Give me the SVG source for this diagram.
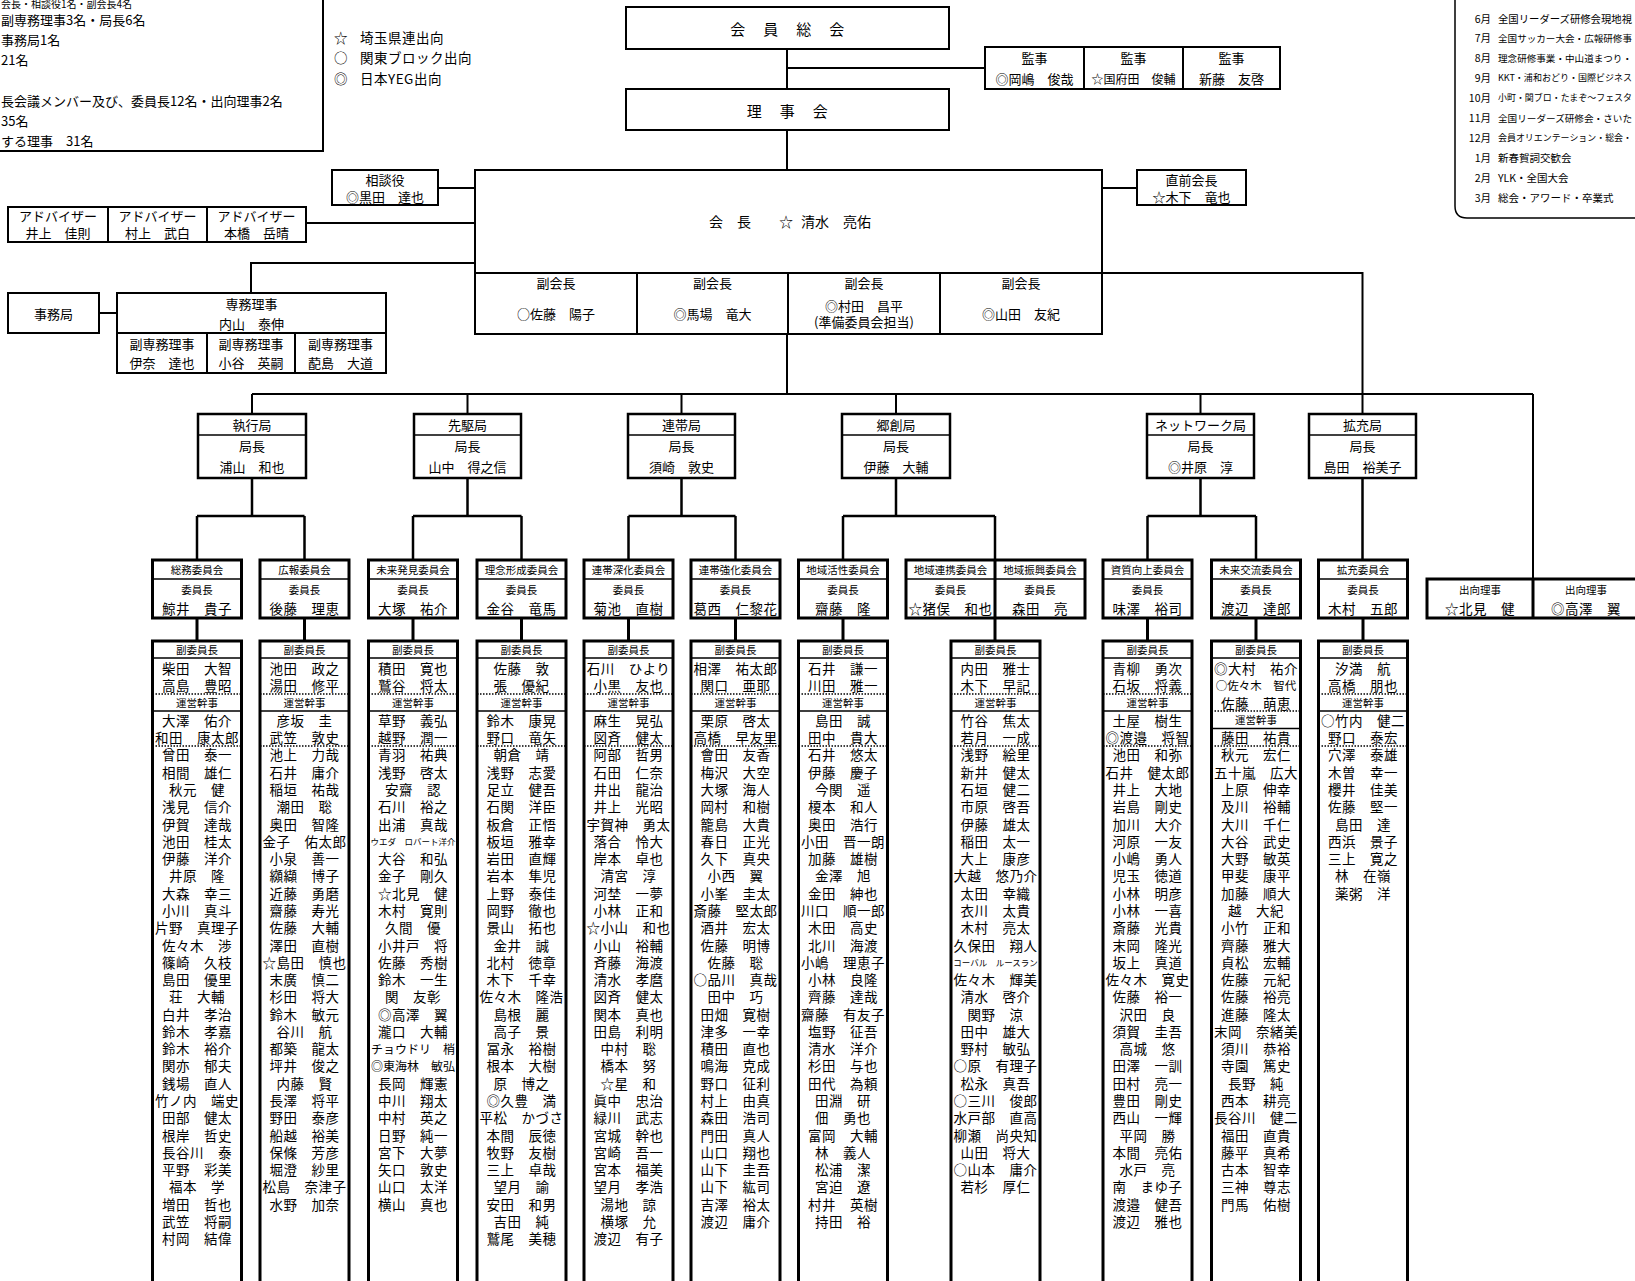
<svg xmlns="http://www.w3.org/2000/svg" xmlns:xlink="http://www.w3.org/1999/xlink" width="1635" height="1281" viewBox="0 0 1635 1281">
<style>
text{font-family:"Noto Sans CJK JP","Noto Sans CJK SC","Liberation Sans",sans-serif;fill:#000;dominant-baseline:central;text-anchor:middle}
.st{text-anchor:start}
.en{text-anchor:end}
.n{font-size:13.5px;letter-spacing:0.5px}
.u{font-size:13px}
.L{font-size:15px;letter-spacing:1.5px}
.s{font-size:10.5px}
.g{font-size:13px}
.cal{font-size:10.5px}
.m{font-size:12px}
.m2{font-size:11.5px}
.xs{font-size:8.5px}
.bx{fill:#fff;stroke:#000;stroke-width:2}
.bb{fill:#fff;stroke:#000;stroke-width:2.5}
.bc{fill:#fff;stroke:#000;stroke-width:3}
.ln{fill:none;stroke:#000;stroke-width:2}
.lb{fill:none;stroke:#000;stroke-width:2.5}
.lc{fill:none;stroke:#000;stroke-width:3}
.d1{fill:none;stroke:#000;stroke-width:1.5}
.dt{fill:none;stroke:#000;stroke-width:1.5;stroke-dasharray:1.5 1.5}
</style>
<defs>
<g id="hf">
<rect class="bc" x="-44.5" y="560" width="89" height="58"/>
<path class="d1" d="M-44.5,579H44.5"/>
</g>
<g id="mf">
<rect class="bc" x="-44.5" y="641" width="89" height="660"/>
<path class="d1" d="M-44.5,658H44.5M-44.5,711H44.5"/>
<path class="dt" d="M-44.5,694H44.5M-44.5,746H44.5"/>
</g>
</defs>
<rect x="0" y="0" width="1635" height="1281" fill="#fff"/>

<g id="legend">
<rect x="-10" y="-10" width="333" height="161" fill="#fff" stroke="#000" stroke-width="2"/>
<text class="st" style="font-size:10px" x="1" y="3">会長・相談役1名・副会長4名</text>
<text class="g st" x="1" y="19">副専務理事3名・局長6名</text>
<text class="g st" x="1" y="39">事務局1名</text>
<text class="g st" x="1" y="59">21名</text>
<text class="g st" x="1" y="100">長会議メンバー及び、委員長12名・出向理事2名</text>
<text class="g st" x="1" y="120">35名</text>
<text class="g st" x="1" y="140">する理事　31名</text>
</g>

<g id="marks">
<text class="n st" x="334" y="37">☆</text><text class="n st" x="360" y="37">埼玉県連出向</text>
<text class="n st" x="334" y="57">○</text><text class="n st" x="360" y="57">関東ブロック出向</text>
<text class="n st" x="334" y="78">◎</text><text class="n st" x="360" y="78">日本YEG出向</text>
</g>

<g id="calendar">
<path d="M1455,-5V206Q1455,218 1467,218H1645" fill="#fff" stroke="#000" stroke-width="1.5"/>
<text class="cal en" x="1491" y="18">6月</text><text class="st" style="font-size:10.2px" x="1498" y="18" textLength="134" lengthAdjust="spacingAndGlyphs">全国リーダーズ研修会現地視</text>
<text class="cal en" x="1491" y="37.9">7月</text><text class="st" style="font-size:9.4px" x="1498" y="37.9" textLength="134" lengthAdjust="spacingAndGlyphs">全国サッカー大会・広報研修事</text>
<text class="cal en" x="1491" y="57.8">8月</text><text class="st" style="font-size:9.4px" x="1498" y="57.8" textLength="134" lengthAdjust="spacingAndGlyphs">理念研修事業・中山道まつり・</text>
<text class="cal en" x="1491" y="77.7">9月</text><text class="st" style="font-size:8.9px" x="1498" y="77.7" textLength="134" lengthAdjust="spacingAndGlyphs">KKT・浦和おどり・国際ビジネス</text>
<text class="cal en" x="1491" y="97.6">10月</text><text class="st" style="font-size:8.8px" x="1498" y="97.6" textLength="134" lengthAdjust="spacingAndGlyphs">小町・関ブロ・たまぞ～フェスタ</text>
<text class="cal en" x="1491" y="117.5">11月</text><text class="st" style="font-size:9.4px" x="1498" y="117.5" textLength="134" lengthAdjust="spacingAndGlyphs">全国リーダーズ研修会・さいた</text>
<text class="cal en" x="1491" y="137.4">12月</text><text class="st" style="font-size:8.8px" x="1498" y="137.4" textLength="134" lengthAdjust="spacingAndGlyphs">会員オリエンテーション・総会・</text>
<text class="cal en" x="1491" y="157.3">1月</text><text class="cal st" x="1498" y="157.3">新春賀詞交歓会</text>
<text class="cal en" x="1491" y="177.2">2月</text><text class="cal st" x="1498" y="177.2">YLK・全国大会</text>
<text class="cal en" x="1491" y="197.1">3月</text><text class="cal st" x="1498" y="197.1">総会・アワード・卒業式</text>
</g>

<g id="connectors">
<path class="ln" d="M787,49V89M787,68H985M787,130V170M438,188H475M306,223H475M475,263H251V293M99,313H117M1102,188H1137M787,334V394M1102,273H1362.5V414M252,394H1533M252,394V414M467.5,394V414M681.5,394V414M896,394V414M1200.5,394V414M1533,394V579"/>
<path class="lb" d="M252,478V516M197,516H304.5M197,516V560M304.5,516V560M467.5,478V516M413,516H521.5M413,516V560M521.5,516V560M681.5,478V516M628.5,516H735.5M628.5,516V560M735.5,516V560M896,478V516M843,516H995M843,516V560M995,516V560M1200.5,478V516M1147.5,516H1256M1147.5,516V560M1256,516V560M1362.5,478V560"/>
<path class="lc" d="M197,618V641M304.5,618V641M413,618V641M521.5,618V641M628.5,618V641M735.5,618V641M843,618V641M995,618V641M1147.5,618V641M1256,618V641M1363,618V641"/>
</g>

<g id="general-assembly">
<rect class="bx" x="626" y="7" width="323" height="42"/>
<text class="L" x="788" y="28">会　員　総　会</text>
</g>
<g id="board">
<rect class="bx" x="626" y="89" width="323" height="41"/>
<text class="L" x="788" y="110">理　事　会</text>
</g>
<g id="auditors">
<rect class="bx" x="985" y="47" width="295" height="42"/>
<path class="ln" d="M1084,47V89M1183,47V89"/>
<text class="u" x="1034.5" y="57">監事</text>
<text class="u" x="1133.5" y="57">監事</text>
<text class="u" x="1231.5" y="57">監事</text>
<text class="u" x="1034.5" y="78">◎岡嶋　俊哉</text>
<text class="u" x="1133.5" y="78" style="font-size:12px">☆国府田　俊輔</text>
<text class="u" x="1231.5" y="78">新藤　友啓</text>
</g>
<g id="president">
<rect class="bx" x="475" y="170" width="627" height="164"/>
<path class="ln" d="M475,273H1102M637,273V334M788,273V334M940,273V334"/>
<text class="u st" style="font-size:14px" x="709" y="221">会　長</text>
<text class="u st" style="font-size:14px" x="779" y="221">☆</text>
<text class="u st" style="font-size:14px" x="801" y="221">清水　亮佑</text>
<text class="u" x="556" y="282">副会長</text>
<text class="u" x="712.5" y="282">副会長</text>
<text class="u" x="864" y="282">副会長</text>
<text class="u" x="1021" y="282">副会長</text>
<text class="u" x="556" y="313">○佐藤　陽子</text>
<text class="u" x="712.5" y="313">◎馬場　竜大</text>
<text class="u" x="864" y="305">◎村田　昌平</text>
<text class="u" x="864" y="321">(準備委員会担当)</text>
<text class="u" x="1021" y="313">◎山田　友紀</text>
</g>
<g id="counselor">
<rect class="bx" x="332" y="170" width="106" height="35"/>
<text class="u" x="385" y="179">相談役</text>
<text class="u" x="385" y="196">◎黒田　達也</text>
</g>
<g id="advisors">
<rect class="bx" x="8" y="207" width="298" height="35"/>
<path class="ln" d="M108,207V242M207,207V242"/>
<text class="u" x="58" y="215">アドバイザー</text>
<text class="u" x="157.5" y="215">アドバイザー</text>
<text class="u" x="256.5" y="215">アドバイザー</text>
<text class="u" x="58" y="232">井上　佳則</text>
<text class="u" x="157.5" y="232">村上　武白</text>
<text class="u" x="256.5" y="232">本橋　岳晴</text>
</g>
<g id="secretariat">
<rect class="bx" x="8" y="293" width="91" height="40"/>
<text class="u" x="53.5" y="313">事務局</text>
</g>
<g id="executive-director">
<rect class="bx" x="117" y="293" width="269" height="80"/>
<path class="ln" d="M117,333H386M207,333V373M295,333V373"/>
<text class="u" x="251.5" y="303">専務理事</text>
<text class="u" x="251.5" y="323">内山　泰伸</text>
<text class="u" x="162" y="343">副専務理事</text>
<text class="u" x="251" y="343">副専務理事</text>
<text class="u" x="340.5" y="343">副専務理事</text>
<text class="u" x="162" y="362">伊奈　達也</text>
<text class="u" x="251" y="362">小谷　英嗣</text>
<text class="u" x="340.5" y="362">蓜島　大道</text>
</g>
<g id="past-president">
<rect class="bx" x="1137" y="170" width="109" height="35"/>
<text class="u" x="1191.5" y="179">直前会長</text>
<text class="u" x="1191.5" y="196">☆木下　竜也</text>
</g>

<g id="bureau-shikko">
<rect class="bb" x="198" y="414" width="108" height="64"/><path class="d1" d="M198,435H306"/>
<text class="u" x="252" y="424.5">執行局</text><text class="u" x="252" y="445">局長</text><text class="u" x="252" y="466">浦山　和也</text>
</g>
<g id="bureau-senku">
<rect class="bb" x="414" y="414" width="107" height="64"/><path class="d1" d="M414,435H521"/>
<text class="u" x="467.5" y="424.5">先駆局</text><text class="u" x="467.5" y="445">局長</text><text class="u" x="467.5" y="466">山中　得之信</text>
</g>
<g id="bureau-rentai">
<rect class="bb" x="628" y="414" width="107" height="64"/><path class="d1" d="M628,435H735"/>
<text class="u" x="681.5" y="424.5">連帯局</text><text class="u" x="681.5" y="445">局長</text><text class="u" x="681.5" y="466">須崎　敦史</text>
</g>
<g id="bureau-kyoso">
<rect class="bb" x="842" y="414" width="108" height="64"/><path class="d1" d="M842,435H950"/>
<text class="u" x="896" y="424.5">郷創局</text><text class="u" x="896" y="445">局長</text><text class="u" x="896" y="466">伊藤　大輔</text>
</g>
<g id="bureau-network">
<rect class="bb" x="1147" y="414" width="107" height="64"/><path class="d1" d="M1147,435H1254"/>
<text class="u" x="1200.5" y="424.5">ネットワーク局</text><text class="u" x="1200.5" y="445">局長</text><text class="u" x="1200.5" y="466">◎井原　淳</text>
</g>
<g id="bureau-kakuju">
<rect class="bb" x="1309" y="414" width="107" height="64"/><path class="d1" d="M1309,435H1416"/>
<text class="u" x="1362.5" y="424.5">拡充局</text><text class="u" x="1362.5" y="445">局長</text><text class="u" x="1362.5" y="466">島田　裕美子</text>
</g>

<g id="seconded-directors">
<rect class="bc" x="1427" y="579" width="230" height="39"/>
<path class="lc" d="M1533,579V618"/>
<text class="s" x="1480" y="589">出向理事</text>
<text class="s" x="1586" y="589">出向理事</text>
<text class="n" x="1480" y="607.5">☆北見　健</text>
<text class="n" x="1586" y="607.5">◎高澤　翼</text>
</g>

<!-- 総務 -->
<g id="col-somu" transform="translate(197,0)">
<g id="somu-committee"><use href="#hf"/>
<text class="s" y="569.5">総務委員会</text><text class="s" y="589">委員長</text><text class="n" y="607.5">鯨井　貴子</text></g>
<g id="somu-members"><use href="#mf"/>
<text class="s" y="649.5">副委員長</text>
<text class="n" y="668">柴田　大智</text><text class="n" y="685.3">高島　豊昭</text>
<text class="s" y="702.6">運営幹事</text>
<text class="n" y="719.8">大澤　佑介</text><text class="n" y="737.1">和田　康太郎</text>
<text class="n" y="754.4">曾田　泰一</text>
<text class="n" y="771.7">相間　雄仁</text>
<text class="n" y="789">秋元　健</text>
<text class="n" y="806.2">浅見　信介</text>
<text class="n" y="823.5">伊賀　達哉</text>
<text class="n" y="840.8">池田　桂太</text>
<text class="n" y="858.1">伊藤　洋介</text>
<text class="n" y="875.4">井原　隆</text>
<text class="n" y="892.6">大森　幸三</text>
<text class="n" y="909.9">小川　真斗</text>
<text class="n" y="927.2">片野　真理子</text>
<text class="n" y="944.5">佐々木　渉</text>
<text class="n" y="961.8">篠崎　久枝</text>
<text class="n" y="979">島田　優里</text>
<text class="n" y="996.3">荘　大輔</text>
<text class="n" y="1013.6">白井　孝治</text>
<text class="n" y="1030.9">鈴木　孝嘉</text>
<text class="n" y="1048.2">鈴木　裕介</text>
<text class="n" y="1065.4">関亦　郁夫</text>
<text class="n" y="1082.7">銭場　直人</text>
<text class="n" y="1100">竹ノ内　端史</text>
<text class="n" y="1117.3">田部　健太</text>
<text class="n" y="1134.6">根岸　哲史</text>
<text class="n" y="1151.8">長谷川　泰</text>
<text class="n" y="1169.1">平野　彩美</text>
<text class="n" y="1186.4">福本　学</text>
<text class="n" y="1203.7">増田　哲也</text>
<text class="n" y="1221">武笠　将嗣</text>
<text class="n" y="1238.2">村岡　結偉</text>
</g></g>

<!-- 広報 -->
<g id="col-koho" transform="translate(304.5,0)">
<g id="koho-committee"><use href="#hf"/>
<text class="s" y="569.5">広報委員会</text><text class="s" y="589">委員長</text><text class="n" y="607.5">後藤　理恵</text></g>
<g id="koho-members"><use href="#mf"/>
<text class="s" y="649.5">副委員長</text>
<text class="n" y="668">池田　政之</text><text class="n" y="685.3">湯田　修平</text>
<text class="s" y="702.6">運営幹事</text>
<text class="n" y="719.8">彦坂　圭</text><text class="n" y="737.1">武笠　敦史</text>
<text class="n" y="754.4">池上　力哉</text>
<text class="n" y="771.7">石井　庸介</text>
<text class="n" y="789">稲垣　祐哉</text>
<text class="n" y="806.2">潮田　聡</text>
<text class="n" y="823.5">奥田　智隆</text>
<text class="n" y="840.8">金子　佑太郎</text>
<text class="n" y="858.1">小泉　善一</text>
<text class="n" y="875.4">纐纈　博子</text>
<text class="n" y="892.6">近藤　勇磨</text>
<text class="n" y="909.9">齋藤　寿光</text>
<text class="n" y="927.2">佐藤　大輔</text>
<text class="n" y="944.5">澤田　直樹</text>
<text class="n" y="961.8">☆島田　慎也</text>
<text class="n" y="979">末廣　慎二</text>
<text class="n" y="996.3">杉田　将大</text>
<text class="n" y="1013.6">鈴木　敏元</text>
<text class="n" y="1030.9">谷川　航</text>
<text class="n" y="1048.2">都築　龍太</text>
<text class="n" y="1065.4">坪井　俊之</text>
<text class="n" y="1082.7">内藤　賢</text>
<text class="n" y="1100">長澤　将平</text>
<text class="n" y="1117.3">野田　泰彦</text>
<text class="n" y="1134.6">船越　裕美</text>
<text class="n" y="1151.8">保條　芳彦</text>
<text class="n" y="1169.1">堀澄　紗里</text>
<text class="n" y="1186.4">松島　奈津子</text>
<text class="n" y="1203.7">水野　加奈</text>
</g></g>

<!-- 未来発見 -->
<g id="col-miraihakken" transform="translate(413,0)">
<g id="miraihakken-committee"><use href="#hf"/>
<text class="s" y="569.5">未来発見委員会</text><text class="s" y="589">委員長</text><text class="n" y="607.5">大塚　祐介</text></g>
<g id="miraihakken-members"><use href="#mf"/>
<text class="s" y="649.5">副委員長</text>
<text class="n" y="668">積田　寛也</text><text class="n" y="685.3">鷲谷　将太</text>
<text class="s" y="702.6">運営幹事</text>
<text class="n" y="719.8">草野　義弘</text><text class="n" y="737.1">越野　潤一</text>
<text class="n" y="754.4">青羽　祐典</text>
<text class="n" y="771.7">浅野　啓太</text>
<text class="n" y="789">安齋　認</text>
<text class="n" y="806.2">石川　裕之</text>
<text class="n" y="823.5">出浦　真哉</text>
<text class="xs" y="840.8">ウエダ　ロバート洋介</text>
<text class="n" y="858.1">大谷　和弘</text>
<text class="n" y="875.4">金子　剛久</text>
<text class="n" y="892.6">☆北見　健</text>
<text class="n" y="909.9">木村　寛則</text>
<text class="n" y="927.2">久間　優</text>
<text class="n" y="944.5">小井戸　将</text>
<text class="n" y="961.8">佐藤　秀樹</text>
<text class="n" y="979">鈴木　一生</text>
<text class="n" y="996.3">関　友彰</text>
<text class="n" y="1013.6">◎高澤　翼</text>
<text class="n" y="1030.9">瀧口　大輔</text>
<text class="m" y="1048.2">チョウドリ　梢</text>
<text class="m" y="1065.4">◎東海林　敏弘</text>
<text class="n" y="1082.7">長岡　輝憲</text>
<text class="n" y="1100">中川　翔太</text>
<text class="n" y="1117.3">中村　英之</text>
<text class="n" y="1134.6">日野　純一</text>
<text class="n" y="1151.8">宮下　大夢</text>
<text class="n" y="1169.1">矢口　敦史</text>
<text class="n" y="1186.4">山口　太洋</text>
<text class="n" y="1203.7">横山　真也</text>
</g></g>

<!-- 理念形成 -->
<g id="col-rinen" transform="translate(521.5,0)">
<g id="rinen-committee"><use href="#hf"/>
<text class="s" y="569.5">理念形成委員会</text><text class="s" y="589">委員長</text><text class="n" y="607.5">金谷　竜馬</text></g>
<g id="rinen-members"><use href="#mf"/>
<text class="s" y="649.5">副委員長</text>
<text class="n" y="668">佐藤　敦</text><text class="n" y="685.3">張　優紀</text>
<text class="s" y="702.6">運営幹事</text>
<text class="n" y="719.8">鈴木　康晃</text><text class="n" y="737.1">野口　竜矢</text>
<text class="n" y="754.4">朝倉　靖</text>
<text class="n" y="771.7">浅野　志愛</text>
<text class="n" y="789">足立　健吾</text>
<text class="n" y="806.2">石関　洋臣</text>
<text class="n" y="823.5">板倉　正悟</text>
<text class="n" y="840.8">板垣　雅幸</text>
<text class="n" y="858.1">岩田　直輝</text>
<text class="n" y="875.4">岩本　隼児</text>
<text class="n" y="892.6">上野　泰佳</text>
<text class="n" y="909.9">岡野　徹也</text>
<text class="n" y="927.2">景山　拓也</text>
<text class="n" y="944.5">金井　誠</text>
<text class="n" y="961.8">北村　徳章</text>
<text class="n" y="979">木下　千幸</text>
<text class="n" y="996.3">佐々木　隆浩</text>
<text class="n" y="1013.6">島根　麗</text>
<text class="n" y="1030.9">高子　景</text>
<text class="n" y="1048.2">冨永　裕樹</text>
<text class="n" y="1065.4">根本　大樹</text>
<text class="n" y="1082.7">原　博之</text>
<text class="n" y="1100">◎久豊　満</text>
<text class="n" y="1117.3">平松　かづさ</text>
<text class="n" y="1134.6">本間　辰徳</text>
<text class="n" y="1151.8">牧野　友樹</text>
<text class="n" y="1169.1">三上　卓哉</text>
<text class="n" y="1186.4">望月　諭</text>
<text class="n" y="1203.7">安田　和男</text>
<text class="n" y="1221">吉田　純</text>
<text class="n" y="1238.2">鷲尾　美穂</text>
</g></g>

<!-- 連帯深化 -->
<g id="col-rentaishinka" transform="translate(628.5,0)">
<g id="rentaishinka-committee"><use href="#hf"/>
<text class="s" y="569.5">連帯深化委員会</text><text class="s" y="589">委員長</text><text class="n" y="607.5">菊池　直樹</text></g>
<g id="rentaishinka-members"><use href="#mf"/>
<text class="s" y="649.5">副委員長</text>
<text class="n" y="668">石川　ひより</text><text class="n" y="685.3">小黒　友也</text>
<text class="s" y="702.6">運営幹事</text>
<text class="n" y="719.8">麻生　晃弘</text><text class="n" y="737.1">図斉　健太</text>
<text class="n" y="754.4">阿部　哲男</text>
<text class="n" y="771.7">石田　仁奈</text>
<text class="n" y="789">井出　龍治</text>
<text class="n" y="806.2">井上　光昭</text>
<text class="n" y="823.5">宇賀神　勇太</text>
<text class="n" y="840.8">落合　怜大</text>
<text class="n" y="858.1">岸本　卓也</text>
<text class="n" y="875.4">清宮　淳</text>
<text class="n" y="892.6">河埜　一夢</text>
<text class="n" y="909.9">小林　正和</text>
<text class="n" y="927.2">☆小山　和也</text>
<text class="n" y="944.5">小山　裕輔</text>
<text class="n" y="961.8">斉藤　海渡</text>
<text class="n" y="979">清水　孝麿</text>
<text class="n" y="996.3">図斉　健太</text>
<text class="n" y="1013.6">関本　真也</text>
<text class="n" y="1030.9">田島　利明</text>
<text class="n" y="1048.2">中村　聡</text>
<text class="n" y="1065.4">橋本　努</text>
<text class="n" y="1082.7">☆星　和</text>
<text class="n" y="1100">眞中　忠治</text>
<text class="n" y="1117.3">緑川　武志</text>
<text class="n" y="1134.6">宮城　幹也</text>
<text class="n" y="1151.8">宮崎　吾一</text>
<text class="n" y="1169.1">宮本　福美</text>
<text class="n" y="1186.4">望月　孝浩</text>
<text class="n" y="1203.7">湯地　諒</text>
<text class="n" y="1221">横塚　允</text>
<text class="n" y="1238.2">渡辺　有子</text>
</g></g>

<!-- 連帯強化 -->
<g id="col-rentaikyoka" transform="translate(735.5,0)">
<g id="rentaikyoka-committee"><use href="#hf"/>
<text class="s" y="569.5">連帯強化委員会</text><text class="s" y="589">委員長</text><text class="n" y="607.5">葛西　仁黎花</text></g>
<g id="rentaikyoka-members"><use href="#mf"/>
<text class="s" y="649.5">副委員長</text>
<text class="n" y="668">相澤　祐太郎</text><text class="n" y="685.3">関口　亜耶</text>
<text class="s" y="702.6">運営幹事</text>
<text class="n" y="719.8">栗原　啓太</text><text class="n" y="737.1">高橋　早友里</text>
<text class="n" y="754.4">會田　友香</text>
<text class="n" y="771.7">梅沢　大空</text>
<text class="n" y="789">大塚　海人</text>
<text class="n" y="806.2">岡村　和樹</text>
<text class="n" y="823.5">籠島　大貴</text>
<text class="n" y="840.8">春日　正光</text>
<text class="n" y="858.1">久下　真央</text>
<text class="n" y="875.4">小西　翼</text>
<text class="n" y="892.6">小峯　圭太</text>
<text class="n" y="909.9">斎藤　堅太郎</text>
<text class="n" y="927.2">酒井　宏太</text>
<text class="n" y="944.5">佐藤　明博</text>
<text class="n" y="961.8">佐藤　聡</text>
<text class="n" y="979">○品川　真哉</text>
<text class="n" y="996.3">田中　巧</text>
<text class="n" y="1013.6">田畑　寛樹</text>
<text class="n" y="1030.9">津多　一幸</text>
<text class="n" y="1048.2">積田　直也</text>
<text class="n" y="1065.4">鳴海　克成</text>
<text class="n" y="1082.7">野口　征利</text>
<text class="n" y="1100">村上　由真</text>
<text class="n" y="1117.3">森田　浩司</text>
<text class="n" y="1134.6">門田　真人</text>
<text class="n" y="1151.8">山口　翔也</text>
<text class="n" y="1169.1">山下　圭吾</text>
<text class="n" y="1186.4">山下　紘司</text>
<text class="n" y="1203.7">吉澤　裕太</text>
<text class="n" y="1221">渡辺　庸介</text>
</g></g>

<!-- 地域活性 -->
<g id="col-chiikikassei" transform="translate(843,0)">
<g id="chiikikassei-committee"><use href="#hf"/>
<text class="s" y="569.5">地域活性委員会</text><text class="s" y="589">委員長</text><text class="n" y="607.5">齋藤　隆</text></g>
<g id="chiikikassei-members"><use href="#mf"/>
<text class="s" y="649.5">副委員長</text>
<text class="n" y="668">石井　謙一</text><text class="n" y="685.3">川田　雅一</text>
<text class="s" y="702.6">運営幹事</text>
<text class="n" y="719.8">島田　誠</text><text class="n" y="737.1">田中　貴大</text>
<text class="n" y="754.4">石井　悠太</text>
<text class="n" y="771.7">伊藤　慶子</text>
<text class="n" y="789">今関　遥</text>
<text class="n" y="806.2">榎本　和人</text>
<text class="n" y="823.5">奥田　浩行</text>
<text class="n" y="840.8">小田　晋一朗</text>
<text class="n" y="858.1">加藤　雄樹</text>
<text class="n" y="875.4">金澤　旭</text>
<text class="n" y="892.6">金田　紳也</text>
<text class="n" y="909.9">川口　順一郎</text>
<text class="n" y="927.2">木田　高史</text>
<text class="n" y="944.5">北川　海渡</text>
<text class="n" y="961.8">小嶋　理恵子</text>
<text class="n" y="979">小林　良隆</text>
<text class="n" y="996.3">齊藤　達哉</text>
<text class="n" y="1013.6">齋藤　有友子</text>
<text class="n" y="1030.9">塩野　征吾</text>
<text class="n" y="1048.2">清水　洋介</text>
<text class="n" y="1065.4">杉田　与也</text>
<text class="n" y="1082.7">田代　為頼</text>
<text class="n" y="1100">田淵　研</text>
<text class="n" y="1117.3">佃　勇也</text>
<text class="n" y="1134.6">富岡　大輔</text>
<text class="n" y="1151.8">林　義人</text>
<text class="n" y="1169.1">松浦　潔</text>
<text class="n" y="1186.4">宮迫　遼</text>
<text class="n" y="1203.7">村井　英樹</text>
<text class="n" y="1221">持田　裕</text>
</g></g>

<!-- 地域連携・地域振興 -->
<g id="chiikirenkei-shinko-committee">
<rect class="bc" x="906" y="560" width="179" height="58"/>
<path class="d1" d="M906,579H1085"/>
<path class="lc" d="M995,560V618"/>
<text class="s" x="950.5" y="569.5">地域連携委員会</text>
<text class="s" x="1040" y="569.5">地域振興委員会</text>
<text class="s" x="950.5" y="589">委員長</text>
<text class="s" x="1040" y="589">委員長</text>
<text class="n" x="950.5" y="607.5">☆猪俣　和也</text>
<text class="n" x="1040" y="607.5">森田　亮</text>
</g>
<g id="col-chiikirenkei" transform="translate(995.5,0)">
<g id="chiikirenkei-members"><use href="#mf"/>
<text class="s" y="649.5">副委員長</text>
<text class="n" y="668">内田　雅士</text><text class="n" y="685.3">木下　早記</text>
<text class="s" y="702.6">運営幹事</text>
<text class="n" y="719.8">竹谷　焦太</text><text class="n" y="737.1">若月　一成</text>
<text class="n" y="754.4">浅野　絵里</text>
<text class="n" y="771.7">新井　健太</text>
<text class="n" y="789">石垣　健二</text>
<text class="n" y="806.2">市原　啓吾</text>
<text class="n" y="823.5">伊藤　雄太</text>
<text class="n" y="840.8">稲田　太一</text>
<text class="n" y="858.1">大上　康彦</text>
<text class="n" y="875.4">大越　悠乃介</text>
<text class="n" y="892.6">太田　幸織</text>
<text class="n" y="909.9">衣川　太貴</text>
<text class="n" y="927.2">木村　亮太</text>
<text class="n" y="944.5">久保田　翔人</text>
<text class="xs" y="961.8">コーバル　ルースラン</text>
<text class="n" y="979">佐々木　輝美</text>
<text class="n" y="996.3">清水　啓介</text>
<text class="n" y="1013.6">関野　涼</text>
<text class="n" y="1030.9">田中　雄大</text>
<text class="n" y="1048.2">野村　敏弘</text>
<text class="n" y="1065.4">○原　有理子</text>
<text class="n" y="1082.7">松永　真吾</text>
<text class="n" y="1100">○三川　俊郎</text>
<text class="n" y="1117.3">水戸部　直高</text>
<text class="n" y="1134.6">柳瀬　尚央知</text>
<text class="n" y="1151.8">山田　将大</text>
<text class="n" y="1169.1">○山本　庸介</text>
<text class="n" y="1186.4">若杉　厚仁</text>
</g></g>

<!-- 資質向上 -->
<g id="col-shishitsu" transform="translate(1147.5,0)">
<g id="shishitsu-committee"><use href="#hf"/>
<text class="s" y="569.5">資質向上委員会</text><text class="s" y="589">委員長</text><text class="n" y="607.5">味澤　裕司</text></g>
<g id="shishitsu-members"><use href="#mf"/>
<text class="s" y="649.5">副委員長</text>
<text class="n" y="668">青柳　勇次</text><text class="n" y="685.3">石坂　将義</text>
<text class="s" y="702.6">運営幹事</text>
<text class="n" y="719.8">土屋　樹生</text><text class="n" y="737.1">◎渡邉　将智</text>
<text class="n" y="754.4">池田　和弥</text>
<text class="n" y="771.7">石井　健太郎</text>
<text class="n" y="789">井上　大地</text>
<text class="n" y="806.2">岩島　剛史</text>
<text class="n" y="823.5">加川　大介</text>
<text class="n" y="840.8">河原　一友</text>
<text class="n" y="858.1">小嶋　勇人</text>
<text class="n" y="875.4">児玉　徳道</text>
<text class="n" y="892.6">小林　明彦</text>
<text class="n" y="909.9">小林　一喜</text>
<text class="n" y="927.2">斎藤　光貴</text>
<text class="n" y="944.5">末岡　隆光</text>
<text class="n" y="961.8">坂上　真道</text>
<text class="n" y="979">佐々木　寛史</text>
<text class="n" y="996.3">佐藤　裕一</text>
<text class="n" y="1013.6">沢田　良</text>
<text class="n" y="1030.9">須賀　圭吾</text>
<text class="n" y="1048.2">高城　悠</text>
<text class="n" y="1065.4">田澤　一訓</text>
<text class="n" y="1082.7">田村　亮一</text>
<text class="n" y="1100">豊田　剛史</text>
<text class="n" y="1117.3">西山　一輝</text>
<text class="n" y="1134.6">平岡　勝</text>
<text class="n" y="1151.8">本間　亮佑</text>
<text class="n" y="1169.1">水戸　亮</text>
<text class="n" y="1186.4">南　まゆ子</text>
<text class="n" y="1203.7">渡邉　健吾</text>
<text class="n" y="1221">渡辺　雅也</text>
</g></g>

<!-- 未来交流 -->
<g id="col-miraikoryu" transform="translate(1256,0)">
<g id="miraikoryu-committee"><use href="#hf"/>
<text class="s" y="569.5">未来交流委員会</text><text class="s" y="589">委員長</text><text class="n" y="607.5">渡辺　達郎</text></g>
<g id="miraikoryu-members">
<rect class="bc" x="-44.5" y="641" width="89" height="660"/>
<path class="d1" d="M-44.5,658H44.5M-44.5,728.5H44.5"/>
<path class="dt" d="M-44.5,711H44.5M-44.5,746H44.5"/>
<text class="s" y="649.5">副委員長</text>
<text class="n" y="668">◎大村　祐介</text>
<text class="m2" y="685.3">○佐々木　智代</text>
<text class="n" y="702.6">佐藤　萌恵</text>
<text class="s" y="719.8">運営幹事</text>
<text class="n" y="737.1">藤田　祐貴</text>
<text class="n" y="754.4">秋元　宏仁</text>
<text class="n" y="771.7">五十嵐　広大</text>
<text class="n" y="789">上原　伸幸</text>
<text class="n" y="806.2">及川　裕輔</text>
<text class="n" y="823.5">大川　千仁</text>
<text class="n" y="840.8">大谷　武史</text>
<text class="n" y="858.1">大野　敏英</text>
<text class="n" y="875.4">甲斐　康平</text>
<text class="n" y="892.6">加藤　順大</text>
<text class="n" y="909.9">越　大紀</text>
<text class="n" y="927.2">小竹　正和</text>
<text class="n" y="944.5">齊藤　雅大</text>
<text class="n" y="961.8">貞松　宏輔</text>
<text class="n" y="979">佐藤　元紀</text>
<text class="n" y="996.3">佐藤　裕亮</text>
<text class="n" y="1013.6">進藤　隆太</text>
<text class="n" y="1030.9">末岡　奈緒美</text>
<text class="n" y="1048.2">須川　恭裕</text>
<text class="n" y="1065.4">寺園　篤史</text>
<text class="n" y="1082.7">長野　純</text>
<text class="n" y="1100">西本　耕亮</text>
<text class="n" y="1117.3">長谷川　健二</text>
<text class="n" y="1134.6">福田　直貴</text>
<text class="n" y="1151.8">藤平　真希</text>
<text class="n" y="1169.1">古本　智幸</text>
<text class="n" y="1186.4">三神　尊志</text>
<text class="n" y="1203.7">門馬　佑樹</text>
</g></g>

<!-- 拡充 -->
<g id="col-kakuju" transform="translate(1363,0)">
<g id="kakuju-committee"><use href="#hf"/>
<text class="s" y="569.5">拡充委員会</text><text class="s" y="589">委員長</text><text class="n" y="607.5">木村　五郎</text></g>
<g id="kakuju-members"><use href="#mf"/>
<text class="s" y="649.5">副委員長</text>
<text class="n" y="668">汐満　航</text><text class="n" y="685.3">高橋　朋也</text>
<text class="s" y="702.6">運営幹事</text>
<text class="n" y="719.8">○竹内　健二</text><text class="n" y="737.1">野口　泰宏</text>
<text class="n" y="754.4">穴澤　泰雄</text>
<text class="n" y="771.7">木曽　幸一</text>
<text class="n" y="789">櫻井　佳美</text>
<text class="n" y="806.2">佐藤　堅一</text>
<text class="n" y="823.5">島田　達</text>
<text class="n" y="840.8">西浜　景子</text>
<text class="n" y="858.1">三上　寛之</text>
<text class="n" y="875.4">林　在嶺</text>
<text class="n" y="892.6">薬粥　洋</text>
</g></g>
</svg>
